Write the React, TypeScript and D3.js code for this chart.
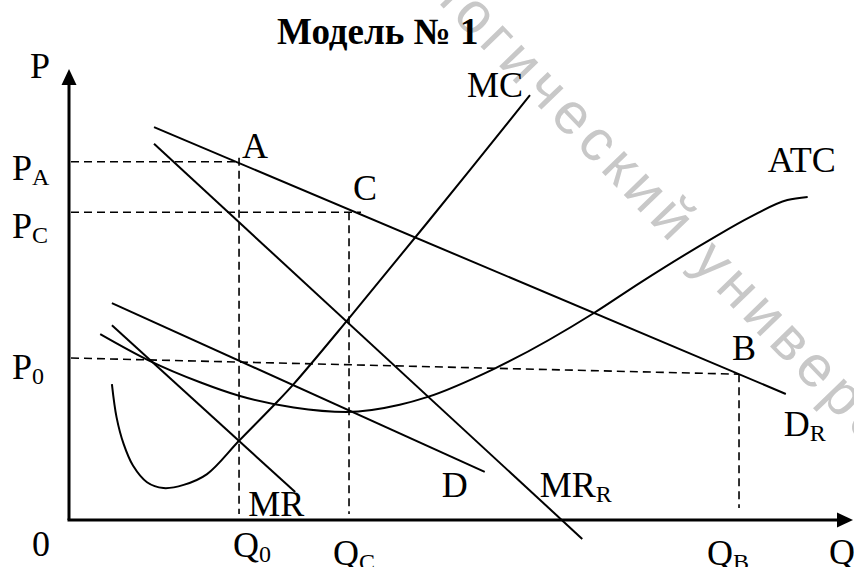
import React from 'react'
import * as d3 from 'd3'

const W = 854
const H = 567

// curves, as [Q, P] in chart units (0..100)
const demandR: [number, number][] = [
  [10.9, 87.3],
  [91.9, 28.0],
]
const marginalRevenueR: [number, number][] = [
  [10.9, 83.6],
  [65.8, -4.2],
]
const demand: [number, number][] = [
  [5.5, 48.2],
  [53.3, 10.7],
]
const marginalRevenue: [number, number][] = [
  [5.5, 43.3],
  [29.0, 6.2],
]
const marginalCost: [number, number][] = [
  [5.5, 30.2],
  [6.1, 22.8],
  [7.0, 16.9],
  [8.2, 12.1],
  [10.0, 8.4],
  [12.1, 7.1],
  [14.7, 7.8],
  [17.7, 10.2],
  [21.8, 17.6],
  [26.2, 25.4],
  [28.8, 30.2],
  [35.6, 44.2],
  [45.9, 66.0],
  [59.1, 94.4],
]
const averageCost: [number, number][] = [
  [4.0, 41.3],
  [10.4, 35.3],
  [16.8, 30.6],
  [21.8, 27.6],
  [28.8, 25.0],
  [35.6, 24.0],
  [42.4, 25.6],
  [45.9, 27.3],
  [54.5, 33.6],
  [67.3, 46.0],
  [73.2, 52.7],
  [82.6, 62.7],
  [87.3, 67.3],
  [92.1, 71.1],
  [94.7, 71.8],
]

// quantities and prices marked on the axes
const qLevels = { Q0: 21.8, QC: 35.9, QB: 85.9 }
const pLevels = { PA: 79.6, PC: 68.4, P0: 36.0, PB: 32.4 }

const title = 'Модель № 1'
const watermark = 'логический университет'

const serif = '"Liberation Serif", "Times New Roman", serif'

export default function App() {
  const x = d3.scaleLinear().domain([0, 100]).range([69, 849])
  const y = d3.scaleLinear().domain([0, 100]).range([520, 70])

  const straight = d3
    .line<[number, number]>()
    .x((d) => x(d[0]))
    .y((d) => y(d[1]))
  const smooth = d3
    .line<[number, number]>()
    .x((d) => x(d[0]))
    .y((d) => y(d[1]))
    .curve(d3.curveCatmullRom.alpha(0.5))
  const smoothX = d3
    .line<[number, number]>()
    .x((d) => x(d[0]))
    .y((d) => y(d[1]))
    .curve(d3.curveMonotoneX)

  const x0 = x(0)
  const y0 = y(0)
  const xEnd = x.range()[1] + 4
  const yTop = y.range()[1] - 1

  const dashed = { stroke: '#000', strokeWidth: 1.6, strokeDasharray: '8,5', fill: 'none' }
  const curve = { stroke: '#000', strokeWidth: 2, fill: 'none' }

  const dashLines: [number, number, number, number][] = [
    [x0 + 2, y(pLevels.PA), x(qLevels.Q0), y(pLevels.PA)],
    [x(qLevels.Q0), y(pLevels.PA) - 4, x(qLevels.Q0), y0 - 6],
    [x0 + 2, y(pLevels.PC), x(qLevels.QC) + 12, y(pLevels.PC)],
    [x(qLevels.QC), y(pLevels.PC), x(qLevels.QC), y0 - 6],
    [x0 + 2, y(pLevels.P0), x(qLevels.QB), y(pLevels.PB)],
    [x(qLevels.QB), y(pLevels.PB), x(qLevels.QB), y0 - 12],
  ]

  const labels: { t: string; s?: string; x: number; y: number }[] = [
    { t: 'P', x: x0 - 39, y: yTop + 9 },
    { t: 'P', s: 'A', x: 12, y: y(pLevels.PA) + 18 },
    { t: 'P', s: 'C', x: 12, y: y(pLevels.PC) + 26 },
    { t: 'P', s: '0', x: 12, y: y(pLevels.P0) + 21 },
    { t: '0', x: 32, y: y0 + 36 },
    { t: 'Q', s: '0', x: x(qLevels.Q0) - 6, y: y0 + 37 },
    { t: 'Q', s: 'C', x: x(qLevels.QC) - 16, y: y0 + 45 },
    { t: 'Q', s: 'B', x: x(qLevels.QB) - 32, y: y0 + 45 },
    { t: 'Q', x: xEnd - 24, y: y0 + 44 },
    { t: 'A', x: x(qLevels.Q0) + 3, y: y(pLevels.PA) - 4 },
    { t: 'C', x: x(qLevels.QC) + 4, y: y(pLevels.PC) - 12 },
    { t: 'B', x: x(qLevels.QB) - 7, y: y(pLevels.PB) - 14 },
    { t: 'MC', x: x(59.1) - 63, y: y(94.4) + 2 },
    { t: 'ATC', x: x(94.7) - 40, y: y(71.8) - 25 },
    { t: 'D', s: 'R', x: x(91.9) - 2, y: y(28.0) + 42 },
    { t: 'MR', x: x(29.0) - 47, y: y0 - 4 },
    { t: 'D', x: x(53.3) - 43, y: y(10.7) + 25 },
    { t: 'MR', s: 'R', x: x(53.3) + 55, y: y(10.7) + 25 },
  ]

  return (
    <svg
      width={W}
      height={H}
      viewBox={`0 0 ${W} ${H}`}
      style={{ position: 'absolute', left: 0, top: 0, background: '#fff' }}
    >
      <rect width={W} height={H} fill="#fff" />
      <text
        x={423}
        y={-13}
        transform="rotate(46, 423, -13)"
        fontFamily='"Liberation Sans", Arial, sans-serif'
        fontSize={58}
        letterSpacing={6}
        fill="#c8c8c8"
      >
        {watermark}
      </text>

      {dashLines.map((d, i) => (
        <line key={i} x1={d[0]} y1={d[1]} x2={d[2]} y2={d[3]} {...dashed} />
      ))}

      <path d={straight(demandR) ?? ''} {...curve} />
      <path d={straight(marginalRevenueR) ?? ''} {...curve} />
      <path d={straight(demand) ?? ''} {...curve} />
      <path d={straight(marginalRevenue) ?? ''} {...curve} />
      <path d={smooth(marginalCost) ?? ''} {...curve} />
      <path d={smoothX(averageCost) ?? ''} {...curve} />

      {/* axes */}
      <line x1={x0} y1={y0} x2={x0} y2={yTop + 12} stroke="#000" strokeWidth={3} />
      <path d={`M${x0},${yTop} L${x0 - 7.5},${yTop + 16} L${x0 + 7.5},${yTop + 16} Z`} fill="#000" />
      <line x1={x0 - 1.5} y1={y0} x2={xEnd - 12} y2={y0} stroke="#000" strokeWidth={3} />
      <path d={`M${xEnd},${y0} L${xEnd - 16},${y0 - 7.5} L${xEnd - 16},${y0 + 7.5} Z`} fill="#000" />

      <text x={277} y={44} fontFamily={serif} fontSize={37} fontWeight="bold" fill="#000">
        {title}
      </text>

      {labels.map((l, i) => (
        <text key={i} x={l.x} y={l.y} fontFamily={serif} fontSize={36} fill="#000">
          {l.t}
          {l.s && (
            <tspan fontSize={24} dy={5}>
              {l.s}
            </tspan>
          )}
        </text>
      ))}
    </svg>
  )
}
